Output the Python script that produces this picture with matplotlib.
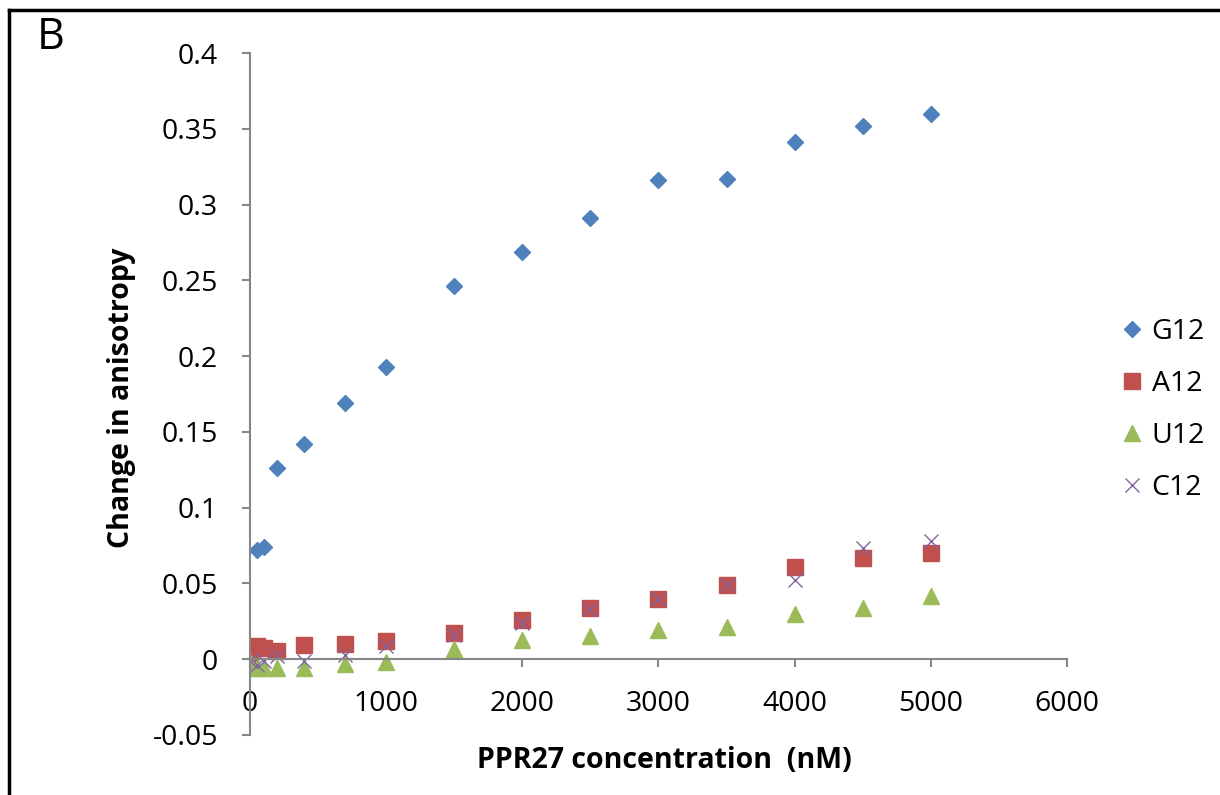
import matplotlib

matplotlib.use("Agg")
import matplotlib.pyplot as plt
from matplotlib.lines import Line2D

plt.rcParams["font.family"] = ["Open Sans", "DejaVu Sans"]

# PPR27 concentration (nM)
conc = [0, 50, 100, 200, 400, 700, 1000, 1500, 2000, 2500, 3000, 3500, 4000, 4500, 5000]
# change in anisotropy per RNA
g12 = [0.0, 0.072, 0.074, 0.126, 0.142, 0.169, 0.193, 0.246, 0.269, 0.291, 0.316, 0.317, 0.341, 0.352, 0.360]
a12 = [0.0, 0.0086, 0.0073, 0.0053, 0.0093, 0.0099, 0.012, 0.017, 0.026, 0.034, 0.040, 0.049, 0.061, 0.067, 0.070]
u12 = [-0.002, -0.006, -0.006, -0.006, -0.006, -0.003, -0.002, 0.007, 0.0125, 0.015, 0.019, 0.021, 0.030, 0.034, 0.042]
c12 = [-0.001, -0.004, -0.001, 0.002, -0.001, 0.003, 0.009, 0.016, 0.024, 0.033, 0.040, 0.049, 0.052, 0.0735, 0.078]

xticks = [0, 1000, 2000, 3000, 4000, 5000, 6000]
yticks = [-0.05, 0, 0.05, 0.1, 0.15, 0.2, 0.25, 0.3, 0.35, 0.4]
ytick_labels = ["-0.05", "0", "0.05", "0.1", "0.15", "0.2", "0.25", "0.3", "0.35", "0.4"]

FS = 20.5
GREY = "#868686"

fig = plt.figure(figsize=(12.2, 7.95), dpi=100)
ax = fig.add_axes([0.2049, 0.0755, 0.6697, 0.8578])

ax.plot(conc, g12, ls="none", marker="D", ms=8, color="#4F81BD", label="G12")
ax.plot(conc, a12, ls="none", marker="s", ms=11.5, color="#C0504D", label="A12")
ax.plot(conc, u12, ls="none", marker="^", ms=11, color="#9BBB59", label="U12")
ax.plot(conc, c12, ls="none", marker="x", ms=10, mew=1.0, color="#8064A2", label="C12")

ax.set_xlim(0, 6000)
ax.set_ylim(-0.05, 0.4)
ax.set_xticks(xticks)
ax.set_yticks(yticks)
ax.set_yticklabels(ytick_labels)

for side in ("top", "right"):
    ax.spines[side].set_visible(False)
ax.spines["left"].set_color(GREY)
ax.spines["bottom"].set_color(GREY)
ax.spines["left"].set_linewidth(1.5)
ax.spines["bottom"].set_linewidth(1.5)
ax.spines["bottom"].set_position(("data", 0))

ax.tick_params(axis="x", direction="out", length=6, width=1.5, color=GREY,
               labelsize=FS, pad=16)
ax.tick_params(axis="y", direction="out", length=6, width=1.5, color=GREY,
               labelsize=FS, pad=17)

fig.text(0.1, 0.5, "Change in anisotropy", rotation=90, fontsize=FS,
         fontweight="bold", ha="center", va="center")
fig.text(0.5447, 0.044, "PPR27 concentration  (nM)", fontsize=FS,
         fontweight="bold", ha="center", va="center")
fig.text(0.03, 0.952, "B", fontsize=31, ha="left", va="center")

ax.legend(loc="center left", bbox_to_anchor=(0.916, 0.4843),
          bbox_transform=fig.transFigure, frameon=False, fontsize=FS,
          handlelength=1.0, handletextpad=0.2, labelspacing=0.85,
          borderpad=0, borderaxespad=0)

# black frame on the top and left edges of the panel
fig.add_artist(Line2D([0.0075, 1.0], [0.9875, 0.9875], color="black", lw=2.5,
                      transform=fig.transFigure))
fig.add_artist(Line2D([0.0075, 0.0075], [0.0, 0.9875], color="black", lw=2.5,
                      transform=fig.transFigure))

fig.savefig("out.png", dpi=100)
